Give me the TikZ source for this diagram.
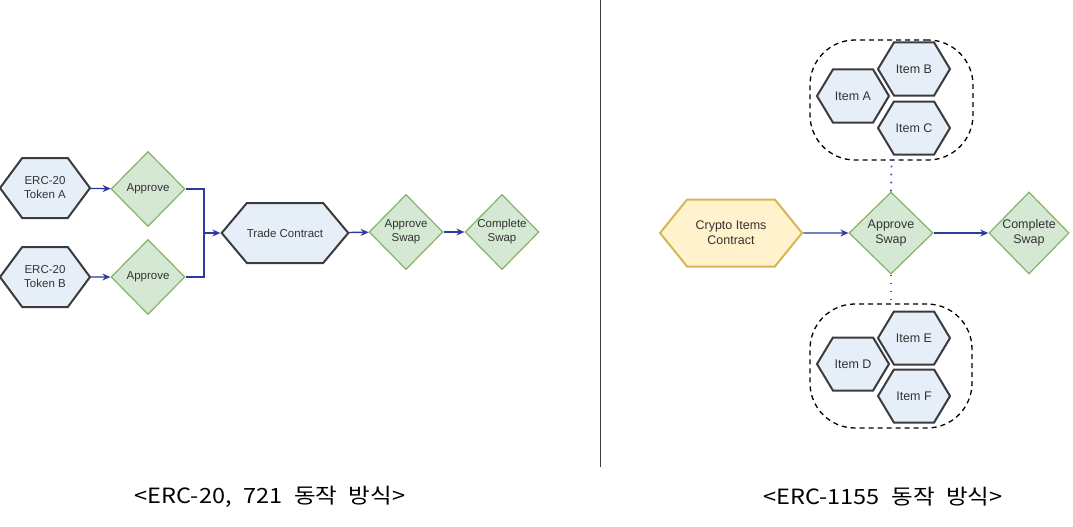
\documentclass[tikz,border=0pt]{standalone}
\usepackage{fontspec}
\setmainfont{Liberation Sans}
\newfontfamily\krfont[FakeStretch=1.12,WordSpace=2.2]{Noto Sans CJK KR}
\usetikzlibrary{arrows.meta,shapes.geometric,shapes.symbols}
\definecolor{HexFill}{HTML}{E6EFF7}
\definecolor{HexLine}{HTML}{3A3B3F}
\definecolor{DiaFill}{HTML}{D5E8D4}
\definecolor{DiaLine}{HTML}{82B366}
\definecolor{GoldFill}{HTML}{FFF2CC}
\definecolor{GoldLine}{HTML}{D6B656}
\definecolor{FlowBlue}{HTML}{2A3CA0}
\definecolor{DotBlue}{HTML}{3F52C0}
\definecolor{TextGray}{HTML}{333333}

\begin{document}
\begin{tikzpicture}[x=1pt,y=-1pt,
  hexa/.style={signal,signal to=east and west,draw=HexLine,fill=HexFill,line width=2pt,
               inner sep=0pt,text=TextGray,align=center},
  choice/.style={diamond,aspect=1,draw=DiaLine,fill=DiaFill,line width=1.2pt,
                 inner sep=0pt,text=TextGray,align=center},
  flow/.style={FlowBlue,line width=1.4pt,-{Stealth[length=8pt,width=7pt]}},
  link/.style={DotBlue,line width=1.8pt,dash pattern=on 1.8pt off 6.2pt},
  groupbox/.style={draw=black,line width=1.3pt,dash pattern=on 5pt off 4pt,rounded corners=45pt},
  capt/.style={font=\krfont\fontsize{21}{25}\selectfont,text=black}]
  \useasboundingbox (0,0) rectangle (1073,527);

  % left: ERC-20 / 721
  \begin{scope}[every node/.append style={font=\fontsize{11.5}{14}\selectfont}]
    \node[hexa,minimum width=90pt,minimum height=60pt,signal pointer angle=107] (tokA) at (45,188) {ERC-20\\Token A};
    \node[hexa,minimum width=90pt,minimum height=60pt,signal pointer angle=107] (tokB) at (45,277) {ERC-20\\Token B};
    \node[choice,minimum width=74pt,minimum height=75pt] (apA) at (148,189) {Approve};
    \node[choice,minimum width=74pt,minimum height=75pt] (apB) at (148,277) {Approve};
    \node[hexa,minimum width=126pt,minimum height=60pt,signal pointer angle=100] (trade) at (285,233) {Trade Contract};
    \node[choice,minimum width=74pt,minimum height=75pt] (apSwapL) at (406,232) {Approve\\Swap};
    \node[choice,minimum width=74pt,minimum height=75pt] (doneL) at (502,232) {Complete\\Swap};
  \end{scope}
  \coordinate (join) at (204,233);
  \draw[flow] (tokA) -- (apA);
  \draw[flow] (tokB) -- (apB);
  \draw[FlowBlue,line width=1.4pt] (apB.east) -| (join);
  \draw[flow] (apA.east) -| (join) -- (trade.west);
  \draw[flow] (trade) -- (apSwapL);
  \draw[flow] (apSwapL) -- (doneL);

  \draw[HexLine,line width=1pt] (600,0) -- (600,467);

  % right: ERC-1155
  \begin{scope}[every node/.append style={font=\fontsize{12.5}{15}\selectfont}]
    \node[hexa,minimum width=142pt,minimum height=67pt,signal pointer angle=102,
          fill=GoldFill,draw=GoldLine] (crypto) at (731,233) {Crypto Items\\Contract};
    \node[choice,minimum width=84pt,minimum height=82pt] (apSwapR) at (891,233) {Approve\\Swap};
    \node[choice,minimum width=80pt,minimum height=82pt] (doneR) at (1029,233) {Complete\\Swap};
    \node[groupbox,minimum width=163pt,minimum height=120pt] (grpTop) at (891.5,100) {};
    \node[groupbox,minimum width=162pt,minimum height=124pt] (grpBot) at (891,366) {};
    \foreach \name/\px/\py/\lbl in {itA/853/96/A, itB/914/69/B, itC/914/128/C,
                                    itD/853/364/D, itE/914/338/E, itF/914/396/F}
      \node[hexa,minimum width=72pt,minimum height=53pt,signal pointer angle=118] (\name) at (\px,\py) {Item \lbl};
  \end{scope}
  \draw[flow] (crypto) -- (apSwapR);
  \draw[flow] (apSwapR) -- (doneR);
  \draw[link] (apSwapR.north) -- (grpTop.south);
  \draw[link] (apSwapR.south) -- (grpBot.north);

  \node[capt] (captL) at (270,497) {<ERC-20, 721 동작 방식>};
  \node[capt] (captR) at (883,497) {<ERC-1155 동작 방식>};
\end{tikzpicture}
\end{document}
